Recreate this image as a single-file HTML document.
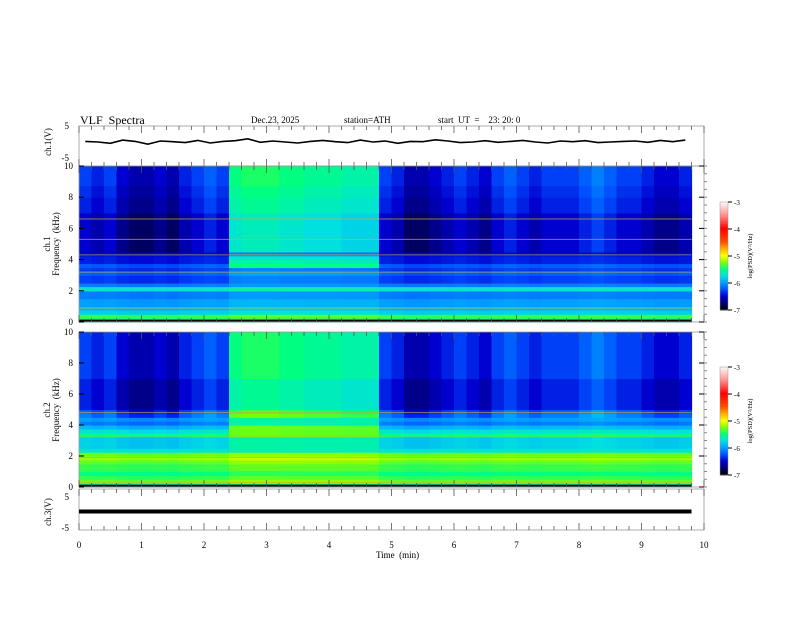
<!DOCTYPE html>
<html><head><meta charset="utf-8"><style>
body{margin:0;background:#fff;width:792px;height:612px;overflow:hidden}
svg text{font-family:"Liberation Serif",serif;fill:#000;white-space:pre}
</style></head><body>
<svg id="chart" width="792" height="612">
<text x="80" y="124" font-size="12">VLF  Spectra</text>
<text x="251" y="123" font-size="9">Dec.23, 2025</text>
<text x="344" y="123" font-size="9">station=ATH</text>
<text x="438" y="123" font-size="9">start  UT  =    23: 20: 0</text>
<text x="376" y="558" font-size="9">Time  (min)</text>
<text transform="translate(51,142) rotate(-90)" text-anchor="middle" font-size="9">ch.1(V)</text>
<text transform="translate(50,244) rotate(-90)" text-anchor="middle" font-size="9">ch.1</text>
<text transform="translate(59,244) rotate(-90)" text-anchor="middle" font-size="9">Frequency  (kHz)</text>
<text transform="translate(50,410) rotate(-90)" text-anchor="middle" font-size="9">ch.2</text>
<text transform="translate(59,410) rotate(-90)" text-anchor="middle" font-size="9">Frequency  (kHz)</text>
<text transform="translate(51,512) rotate(-90)" text-anchor="middle" font-size="9">ch.3(V)</text>
<g id="g"></g>
</svg>
<script>
const timeCols = 49; // 0.2-min columns, data to 9.8 min
const freqProfile1 = [-5.6,-5.4,-5.8,-5.9,-6.0,-6.0,-6.1,-6.1,-5.7,-6.1,-6.3,-6.3,-6.2,-6.3,-6.2,-6.4,-6.4,-6.5,-6.5,-6.5,-6.5,-6.5,-6.5,-6.5,-6.5,-6.5,-6.5,-6.5,-6.4,-6.4,-6.4,-6.4,-6.35,-6.35,-6.35,-6.3,-6.3,-6.3,-6.3,-6.3];
const freqProfile2 = [-5.6,-5.3,-5.4,-5.5,-5.4,-5.4,-5.3,-5.2,-5.3,-5.7,-5.8,-5.8,-5.8,-5.5,-5.7,-5.9,-6.1,-6.0,-6.1,-6.2,-6.4,-6.4,-6.4,-6.4,-6.4,-6.4,-6.4,-6.4,-6.3,-6.3,-6.3,-6.3,-6.3,-6.3,-6.3,-6.3,-6.3,-6.3,-6.3,-6.3];
const timeActivity = [0,-0.1,0,-0.2,-0.3,-0.3,-0.2,-0.3,-0.1,0,0.1,0,0.8,0.85,0.85,0.85,0.8,0.8,0.75,0.75,0.75,0.7,0.7,0.7,0,-0.1,-0.3,-0.3,-0.2,-0.1,0,-0.1,-0.2,0,0.1,0,-0.1,0,0,0,0.1,0.2,0.1,0,0,-0.1,-0.2,-0.2,-0.1];
const eventBand1 = [0,0,0,0,0,0,0,0,0,0,0,0,0,0,0.5,0.6,0.5,0.2,0,0,0,0,0,0,0,0,0,0,0,0,0,0,0,0,0,0,0,0,0,0];
const eventBand2 = [0,0,0,0,0,0,0,0,0,0,0,0,0,0,0.2,0.4,0.3,0.2,0,0,0,0,0,0,0,0,0,0,0,0,0,0,0,0,0,0,0,0,0,0];
const lines1 = [0.3,0.9,2.2,3.2,4.3,5.3,6.6];
const lines2 = [0.3,1.0,1.9,3.3,4.8];
const wave1 = [0.2,0.0,-0.4,0.6,0.2,-0.7,0.3,0.1,-0.2,0.5,-0.3,0.2,0.4,1.0,-0.1,0.3,0.0,-0.3,0.2,0.5,0.1,-0.2,0.6,0.0,0.3,-0.4,0.2,0.1,0.7,0.3,-0.2,0.0,0.4,-0.1,0.2,0.5,0.0,-0.3,0.3,0.1,0.4,-0.2,0.0,0.2,0.3,-0.1,0.5,0.1,0.6];
const xTicks = [0,1,2,3,4,5,6,7,8,9,10];
const X0=79,X1=704;
const xs = t => X0 + t/10*(X1-X0);
const NS='http://www.w3.org/2000/svg';
const g=document.getElementById('g');
function el(tag,attrs,parent){const e=document.createElementNS(NS,tag);for(const k in attrs)e.setAttribute(k,attrs[k]);(parent||g).appendChild(e);return e;}
const stops=[[-7,[0,0,0]],[-6.75,[0,0,122]],[-6.5,[0,0,208]],[-6.25,[0,80,255]],[-6.0,[0,160,255]],[-5.75,[0,224,224]],[-5.5,[0,255,128]],[-5.25,[128,255,0]],[-5.0,[255,255,0]],[-4.75,[255,176,0]],[-4.5,[255,80,0]],[-4.0,[255,0,0]],[-3.5,[255,144,144]],[-3,[255,255,255]]];
function cmap(v){v=Math.max(-7,Math.min(-3,v));for(let i=1;i<stops.length;i++){if(v<=stops[i][0]){const a=stops[i-1],b=stops[i],f=(v-a[0])/(b[0]-a[0]);const c=a[1].map((x,j)=>Math.round(x+(b[1][j]-x)*f));return `rgb(${c})`;}}return '#fff';}
function spectro(name,yTop,yBot,prof,band,lines,act){
  const ys=f=>yBot-f/10*(yBot-yTop);
  const grp=el('g',{});
  
  
  for(let c=0;c<timeCols;c++){for(let r=0;r<prof.length;r++){
    const f0=r*0.25,f1=f0+0.25;
    const w=f0>=4.5?1:(f0>=2.5?0.25:0.1);
    let v=prof[r]+act[c]*w+(act[c]>0.5?band[r]:0);
    const rc=el('rect',{x:xs(c*0.2),y:ys(f1),width:xs(0.2)-xs(0)+0.6,height:ys(f0)-ys(f1)+0.6,fill:cmap(v)},grp);
    
    
  }}
  lines.forEach(f=>{const l=el('line',{x1:X0,x2:xs(9.8),y1:ys(f),y2:ys(f),stroke:'#c8b040','stroke-width':1,opacity:0.7},grp);
    
    });
  el('rect',{x:X0,y:ys(0.15),width:xs(9.8)-X0,height:2,fill:'#000'},grp);
  axisBox(yTop,yBot);
  [0,2,4,6,8,10].forEach(f=>{const t=el('text',{x:X0-6,y:ys(f)+3,'text-anchor':'end','font-size':9});t.textContent=f;
    
    
    el('line',{x1:X0,x2:X0+5,y1:ys(f),y2:ys(f),stroke:'#000'});el('line',{x1:X1,x2:X1-5,y1:ys(f),y2:ys(f),stroke:'#000'});});
  for(let f=0;f<=10;f+=0.5){el('line',{x1:X1,x2:X1+3,y1:ys(f),y2:ys(f),stroke:'#888'});}
}
function axisBox(yTop,yBot){
  el('rect',{x:X0,y:yTop,width:X1-X0,height:yBot-yTop,fill:'none',stroke:'#999','stroke-width':0.8});
  for(let i=0;i<=50;i++){const t=i*0.2,x=xs(t),L=(i%5==0)?7:4;
    el('line',{x1:x,x2:x,y1:yBot,y2:yBot-L,stroke:'#555','stroke-width':0.8});
    el('line',{x1:x,x2:x,y1:yTop,y2:yTop+L,stroke:'#555','stroke-width':0.8});}
}
axisBox(126,166);
[[5,126],[-5,158]].forEach(([v,y])=>{const t=el('text',{x:X0-10,y:y+3,'text-anchor':'end','font-size':9});t.textContent=v;
  
  });
const vy1=v=>142-v*3.2;
let d='';wave1.forEach((v,i)=>{d+=(i?'L':'M')+xs(i*0.2+0.1).toFixed(1)+','+vy1(v).toFixed(1);});
const p1=el('path',{d:d,fill:'none',stroke:'#000','stroke-width':1.6});


spectro('ch1-spectrogram',166,322,freqProfile1,eventBand1,lines1,timeActivity);
spectro('ch2-spectrogram',332,487,freqProfile2,eventBand2,lines2,timeActivity);
axisBox(489,530);
[[5,497],[-5,528]].forEach(([v,y])=>{const t=el('text',{x:X0-10,y:y+3,'text-anchor':'end','font-size':9});t.textContent=v;
  
  });
const p3=el('line',{x1:X0,x2:xs(9.8),y1:511.5,y2:511.5,stroke:'#000','stroke-width':4});


xTicks.forEach(t=>{const tx=el('text',{x:xs(t),y:548,'text-anchor':'middle','font-size':9});tx.textContent=t;
  
  });
function colorbar(name,yTop,yBot){
  const grp=el('g',{});
  
  
  const n=60;for(let i=0;i<n;i++){const v=-7+4*i/n;const h=(yBot-yTop)/n;
    el('rect',{x:720,y:yBot-(i+1)*h,width:8,height:h+0.5,fill:cmap(v)},grp);}
  el('rect',{x:720,y:yTop,width:8,height:yBot-yTop,fill:'none',stroke:'#999','stroke-width':0.5},grp);
  [-3,-4,-5,-6,-7].forEach(v=>{const y=yBot-(v+7)/4*(yBot-yTop);
    el('line',{x1:728,x2:732,y1:y,y2:y,stroke:'#000'},grp);
    const t=el('text',{x:734,y:y+3,'font-size':7},grp);t.textContent=v;
    
    });
  const t=el('text',{transform:`translate(752,${(yTop+yBot)/2}) rotate(-90)`,'text-anchor':'middle','font-size':6.5},grp);
  t.textContent='log(PSD)(V\u00B2/Hz)';
  
  
}
colorbar('ch1-colorbar',202,310);
colorbar('ch2-colorbar',367,475);
</script>
</body></html>
